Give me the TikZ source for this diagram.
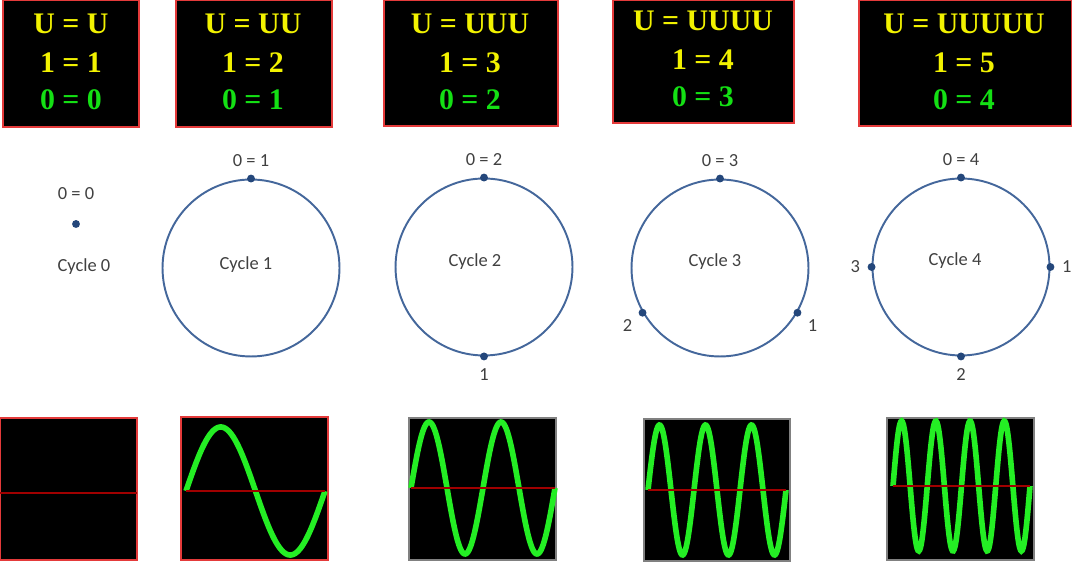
\documentclass[tikz,border=0pt]{standalone}
\usepackage{fontspec}
\setmainfont{Carlito}
\newfontfamily\eqfont{Liberation Serif}
\usetikzlibrary{positioning}
\definecolor{ringblue}{HTML}{44679B}
\definecolor{dotblue}{HTML}{24477B}
\definecolor{labelgray}{HTML}{404040}
\definecolor{eqyellow}{HTML}{F2F200}
\definecolor{eqgreen}{HTML}{14E014}
\definecolor{wavegreen}{HTML}{24EE24}
\definecolor{boxred}{HTML}{E43A3A}
\definecolor{axisred}{HTML}{A00000}

\begin{document}
\begin{tikzpicture}[x=0.02cm,y=-0.02cm,
      eqbox/.style={draw=boxred,fill=black,line width=0.6pt},
      eqline/.style={font=\eqfont\bfseries\fontsize{17}{20}\selectfont,inner sep=0pt},
      ring/.style={circle,draw=ringblue,line width=1.1pt,minimum size=3.54cm,inner sep=0pt},
      tick/.style={circle,fill=dotblue,inner sep=0pt,minimum size=4.5pt},
      lbl/.style={text=labelgray,font=\fontsize{10.5}{12}\selectfont,inner sep=1pt},
      screen/.style={fill=black,line width=0.6pt},
      wave/.style={wavegreen,line width=3.2pt},
      axis/.style={axisred,line width=0.8pt}]
  \useasboundingbox (0,0) rectangle (1072,563);

  % top row: the equation boxes
  \draw[eqbox] (3,0) rectangle (139,127);
  \draw[eqbox] (176,0) rectangle (332,127);
  \draw[eqbox] (384,0) rectangle (558,126);
  \draw[eqbox] (613,0) rectangle (794,123);
  \draw[eqbox] (859,0) rectangle (1072,126);
  \foreach \i/\cx/\dy/\us/\n in {1/71/0/U/1, 2/253/0/UU/2, 3/470/0/UUU/3, 4/703/-3/UUUU/4, 5/964/0/UUUUU/5} {
    \node[eqline,text=eqyellow] (u\i) at (\cx,24+\dy) {U = \us};
    \node[eqline,text=eqyellow] (one\i) at (\cx,63+\dy) {1 = \n};
    \pgfmathtruncatemacro{\m}{\n-1}
    \node[eqline,text=eqgreen] (zero\i) at (\cx,100+\dy) {0 = \m};
  }

  % middle row: the cycles
  \node[tick] (d00) at (76,224) {};
  \node[lbl,above=10pt of d00] (z0) {0 = 0};
  \node[lbl] (cyc0) at (84,267) {Cycle 0};

  \node[ring] (c1) at (251,268) {};
  \node[lbl] (cyc1) at (246,265) {Cycle 1};
  \node[tick] (d10) at (c1.north) {};
  \node[lbl,above=3pt of d10] (z1) {0 = 1};

  \node[ring] (c2) at (484,267) {};
  \node[lbl] (cyc2) at (475,262) {Cycle 2};
  \node[tick] (d20) at (c2.north) {};
  \node[tick] (d21) at (c2.south) {};
  \node[lbl,above=3pt of d20] (z2) {0 = 2};
  \node[lbl,below=3pt of d21] (n21) {1};

  \node[ring] (c3) at (720,268) {};
  \node[lbl] (cyc3) at (715,262) {Cycle 3};
  \node[tick] (d30) at (c3.north) {};
  \node[tick] (d31) at (c3.330) {};
  \node[tick] (d32) at (c3.210) {};
  \node[lbl,above=3pt of d30] (z3) {0 = 3};
  \node[lbl,below right=1pt and 3pt of d31] (n31) {1};
  \node[lbl,below left=1pt and 3pt of d32] (n32) {2};

  \node[ring] (c4) at (961,267) {};
  \node[lbl] (cyc4) at (955,261) {Cycle 4};
  \node[tick] (d40) at (c4.north) {};
  \node[tick] (d41) at (c4.east) {};
  \node[tick] (d42) at (c4.south) {};
  \node[tick] (d43) at (c4.west) {};
  \node[lbl,above=3pt of d40] (z4) {0 = 4};
  \node[lbl,right=3pt of d41] (n41) {1};
  \node[lbl,below=3pt of d42] (n42) {2};
  \node[lbl,left=3pt of d43] (n43) {3};

  % bottom row: the waves
  \draw[screen,draw=boxred] (0,418) rectangle (137,560);
  \draw[axis] (0,493) -- (137,493);
  \draw[screen,draw=boxred] (181,417) rectangle (328,560);
  \draw[screen,draw=gray] (409,418) rectangle (556,560);
  \draw[screen,draw=gray] (644,419) rectangle (790,561);
  \draw[screen,draw=gray] (887,418) rectangle (1034,560);
  \foreach \a/\b/\c/\amp/\n in {186/325/491/64/1, 411/555/488/66/2, 648/786/490/65/3, 893/1030/486/65/4} {
    \draw[wave] plot[domain=\a:\b,samples=160,smooth] (\x,{\c-\amp*sin(360*\n*((\x-\a)/(\b-\a)))});
    \draw[axis] (\a,\c) -- (\b,\c);
  }
\end{tikzpicture}
\end{document}
